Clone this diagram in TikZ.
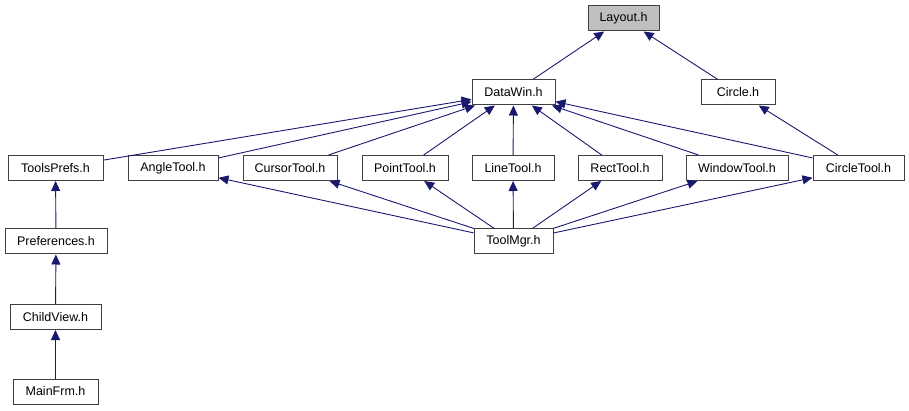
\documentclass[tikz,border=0pt]{standalone}
\usepackage{fontspec}
\setmainfont{Liberation Sans}
\usetikzlibrary{arrows.meta}
\definecolor{edgeblue}{RGB}{25,25,112}
\definecolor{boxgray}{RGB}{191,191,191}
\tikzset{
	file/.style={draw=black!75, line width=1pt, fill=white, minimum height=25pt, inner sep=0pt, font=\fontsize{12.5}{14}\selectfont},
	inc/.style={draw=edgeblue, line width=0.9pt, -{Triangle[length=10pt,width=9pt]}}
}
\begin{document}
\begin{tikzpicture}[x=1pt, y=-1pt]
		\useasboundingbox (0, 0) rectangle (909, 411);
		
		\node[file, fill=boxgray, minimum width=71pt] (layout) at (623.5, 18.5) {Layout.h};
		\node[file, minimum width=83pt] (datawin) at (513.5, 92.5) {DataWin.h};
		\node[file, minimum width=74pt] (circle) at (738, 92.5) {Circle.h};
		
		\node[file, minimum width=95pt] (toolsprefs) at (55.5, 168) {ToolsPrefs.h};
		\node[file, minimum width=90pt] (angletool) at (173, 168) {AngleTool.h};
		\node[file, minimum width=94pt] (cursortool) at (290, 168) {CursorTool.h};
		\node[file, minimum width=86pt] (pointtool) at (405, 168) {PointTool.h};
		\node[file, minimum width=82pt] (linetool) at (513, 168) {LineTool.h};
		\node[file, minimum width=84pt] (recttool) at (620, 168) {RectTool.h};
		\node[file, minimum width=102pt] (windowtool) at (737, 168) {WindowTool.h};
		\node[file, minimum width=91pt] (circletool) at (858.5, 168) {CircleTool.h};
		
		\node[file, minimum width=79pt] (toolmgr) at (513.5, 241.5) {ToolMgr.h};
		\node[file, minimum width=102pt] (preferences) at (56, 241.5) {Preferences.h};
		\node[file, minimum width=91pt] (childview) at (55.5, 317) {ChildView.h};
		\node[file, minimum width=85pt] (mainfrm) at (55.5, 391.5) {MainFrm.h};
		
		\draw[inc] (datawin) -- (layout);
		\draw[inc] (circle) -- (layout);
		
		\foreach \n in {toolsprefs, angletool, cursortool, pointtool, linetool, recttool, windowtool, circletool}
			\draw[inc] (\n) -- (datawin);
		\draw[inc] (circletool) -- (circle);
		
		\foreach \n in {angletool, cursortool, pointtool, linetool, recttool, windowtool, circletool}
			\draw[inc] (toolmgr) -- (\n);
		
		\draw[inc] (preferences) -- (toolsprefs);
		\draw[inc] (childview) -- (preferences);
		\draw[inc] (mainfrm) -- (childview);
	\end{tikzpicture}
\end{document}
